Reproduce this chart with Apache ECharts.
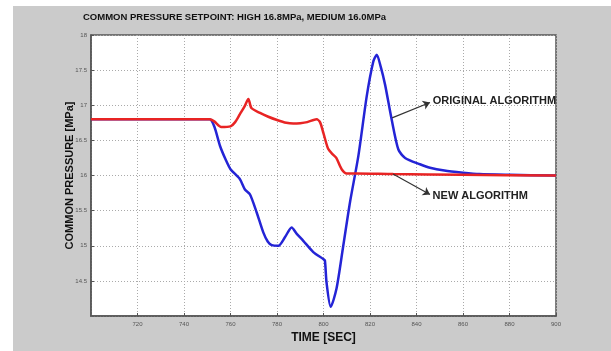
<!DOCTYPE html>
<html>
<head>
<meta charset="utf-8">
<script src="https://cdn.jsdelivr.net/npm/echarts@6/dist/echarts.min.js"></script>
<style>
  html, body { margin: 0; padding: 0; background: #fff; }
  #chart { width: 611px; height: 351px; }
</style>
</head>
<body>
<div id="chart"></div>
<script>
// time [sec] / pressure [MPa] pairs
var newAlgo = [
  [700, 16.8], [751, 16.8], [753, 16.77], [756, 16.69], [760, 16.70], [762, 16.76],
  [764, 16.87], [766, 16.98], [767.7, 17.09], [769, 16.96], [772.7, 16.89], [776, 16.84],
  [780, 16.79], [784, 16.75], [787, 16.74], [790, 16.745], [793, 16.76], [797, 16.80],
  [798.5, 16.76], [800, 16.6], [802, 16.38], [804, 16.3], [805.5, 16.25], [807.8, 16.09],
  [810, 16.03], [814, 16.03], [830, 16.02], [860, 16.01], [900, 16.0]
];
var originalAlgo = [
  [700, 16.8], [751, 16.8], [753, 16.7], [755.5, 16.42], [758, 16.22], [760, 16.09],
  [764, 15.95], [766.2, 15.8], [768.4, 15.73], [771.3, 15.47], [774.1, 15.19], [776, 15.06],
  [777.7, 15.01], [780.6, 15.0], [783.4, 15.12], [786.3, 15.26], [788.5, 15.17], [791.3, 15.07],
  [795.6, 14.91], [799.9, 14.81], [800.6, 14.79], [801.3, 14.48], [803.1, 14.13], [805.6, 14.39],
  [808.5, 15.0], [811.4, 15.62], [815, 16.28], [818.6, 17.13], [821.4, 17.62], [822.9, 17.72],
  [824.6, 17.55], [826.5, 17.29], [829.3, 16.8], [832.2, 16.37], [835.1, 16.25], [841.5, 16.16],
  [845.8, 16.11], [852, 16.07], [860, 16.04], [867, 16.02], [880, 16.01], [900, 16.0]
];
// annotation arrows: [from, to]
var origArrow = [[829.5, 16.82], [845.8, 17.04]];
var newArrow = [[829.9, 16.02], [845.8, 15.73]];

var chart = echarts.init(document.getElementById('chart'));

function arrow(pts, text) {
  return {
    silent: true,
    symbol: ['none', 'arrow'],
    symbolSize: 7,
    lineStyle: { color: '#333', width: 1.2, type: 'solid' },
    label: {
      show: true, position: 'end', distance: 3, formatter: text,
      color: '#222', fontSize: 11, fontWeight: 'bold', fontFamily: 'Liberation Sans'
    },
    data: [[{ coord: pts[0] }, { coord: pts[1] }]]
  };
}

var option = {
  backgroundColor: '#fff',
  animation: false,
  graphic: [{
    type: 'rect', z: -10,
    shape: { x: 13, y: 6, width: 611, height: 351 },
    style: { fill: '#cbcbcb' }
  }],
  title: {
    text: 'COMMON PRESSURE SETPOINT: HIGH 16.8MPa, MEDIUM 16.0MPa',
    left: 83, top: 12, padding: 0,
    textStyle: { fontSize: 9.5, fontWeight: 'bold', color: '#111', fontFamily: 'Liberation Sans' }
  },
  grid: {
    left: 91, top: 35, right: 55, bottom: 35,
    show: true, backgroundColor: '#fff', borderColor: '#555', borderWidth: 1.5
  },
  xAxis: {
    type: 'value', min: 700, max: 900, interval: 20,
    name: 'TIME [SEC]', nameLocation: 'middle', nameGap: 11,
    nameTextStyle: { fontSize: 12, fontWeight: 'bold', color: '#111', fontFamily: 'Liberation Sans' },
    axisLine: { show: true, lineStyle: { color: '#555', width: 1.5 } },
    axisTick: { show: true, inside: true, length: 3, lineStyle: { color: '#555' } },
    axisLabel: { showMinLabel: false, fontSize: 6, color: '#555', margin: 5 },
    splitLine: { show: true, lineStyle: { color: '#aaa', type: [1, 2], width: 1 } }
  },
  yAxis: {
    type: 'value', min: 14, max: 18, interval: 0.5,
    name: 'COMMON PRESSURE [MPa]', nameLocation: 'middle', nameGap: 16,
    nameMoveOverlap: false,
    nameTextStyle: { fontSize: 11, fontWeight: 'bold', color: '#111', fontFamily: 'Liberation Sans' },
    axisLine: { show: true, lineStyle: { color: '#555', width: 1.5 } },
    axisTick: { show: true, inside: true, length: 3, lineStyle: { color: '#555' } },
    axisLabel: { showMinLabel: false, fontSize: 6, color: '#555', margin: 4 },
    splitLine: { show: true, lineStyle: { color: '#aaa', type: [1, 2], width: 1 } }
  },
  series: [
    {
      name: 'ORIGINAL ALGORITHM', type: 'line', data: originalAlgo,
      showSymbol: false, smooth: 0.25,
      lineStyle: { color: '#2424d6', width: 2.5 },
      markLine: arrow(origArrow, 'ORIGINAL ALGORITHM')
    },
    {
      name: 'NEW ALGORITHM', type: 'line', data: newAlgo,
      showSymbol: false, smooth: 0.25,
      lineStyle: { color: '#e82424', width: 2.5 },
      markLine: arrow(newArrow, 'NEW ALGORITHM')
    }
  ]
};
chart.setOption(option);
</script>
</body>
</html>
